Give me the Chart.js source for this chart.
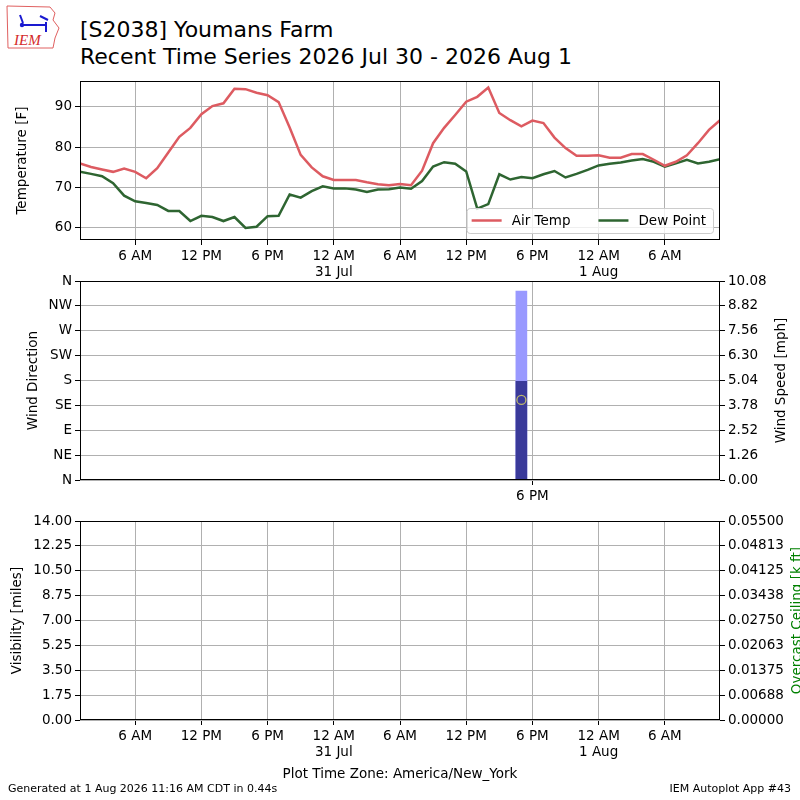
<!DOCTYPE html>
<html>
<head>
<meta charset="utf-8">
<title>[S2038] Youmans Farm</title>
<script src="https://cdn.jsdelivr.net/npm/chart.js@4.4.1/dist/chart.umd.min.js"></script>
<style>
  body { margin: 0; background: #fff; }
  #page { position: relative; width: 800px; height: 800px; overflow: hidden; font-family: 'DejaVu Sans', sans-serif; color: #000; }
  canvas { position: absolute; left: 0; }
  #title { position: absolute; left: 80px; top: 16px; font-size: 22px; line-height: 27px; white-space: nowrap; }
  #logo { position: absolute; left: 4px; top: 3px; }
  .foot { position: absolute; top: 782px; font-size: 11px; line-height: 14px; white-space: nowrap; }
</style>
</head>
<body>
<div id="page">
  <svg id="logo" width="62" height="48" viewBox="0 0 62 48">
    <path d="M3 3 L46 4 L51 10 L49 17 L55 25 L51 35 L49 45 L4 45 Z" fill="#fff" stroke="#e06060" stroke-width="1"/>
    <path d="M17 22 L42 22 M42 19 L42 29 M16 12 L19 20 M36 13 L44 17" stroke="#1a1ad0" stroke-width="2" fill="none"/>
    <circle cx="18" cy="22" r="2.2" fill="#1a1ad0"/>
    <text x="10" y="42" font-family="'Liberation Serif', serif" font-style="italic" font-size="15" fill="#d42a2a">IEM</text>
  </svg>
  <div id="title">[S2038] Youmans Farm<br>Recent Time Series 2026 Jul 30 - 2026 Aug 1</div>
  <canvas id="tempChart" width="800" height="215" style="top:70px"></canvas>
  <canvas id="windChart" width="800" height="240" style="top:270px"></canvas>
  <canvas id="visChart" width="800" height="290" style="top:510px"></canvas>
  <div class="foot" style="left:8px">Generated at 1 Aug 2026 11:16 AM CDT in 0.44s</div>
  <div class="foot" style="right:9px">IEM Autoplot App #43</div>
</div>
<script>
// hours since 30 Jul 00:00 (America/New_York)
const hours = [1, 2, 3, 4, 5, 6, 7, 8, 9, 10, 11, 12, 13, 14, 15, 16, 17, 18, 19, 20,
  21, 22, 23, 24, 25, 26, 27, 28, 29, 30, 31, 32, 33, 34, 35, 36, 37, 38, 39, 40,
  41, 42, 43, 44, 45, 46, 47, 48, 49, 50, 51, 52, 53, 54, 55, 56, 57, 58, 59];

const airTemp = [76.0, 75.1, 74.5, 73.9, 74.7, 73.9, 72.3, 74.8, 78.7, 82.6,
  84.8, 88.2, 90.2, 90.9, 94.5, 94.4, 93.5, 92.9, 91.2, 84.9,
  78.1, 75.0, 72.8, 71.9, 71.9, 71.9, 71.3, 70.8, 70.6, 70.9,
  70.6, 74.2, 81.0, 84.8, 88.0, 91.3, 92.5, 94.8, 88.5, 86.7,
  85.2, 86.6, 86.0, 82.4, 79.8, 77.9, 77.9, 78.0, 77.4, 77.4,
  78.3, 78.3, 76.9, 75.4, 76.4, 78.0, 81.0, 84.3, 86.7];

const dewPoint = [73.9, 73.4, 72.8, 71.1, 68.0, 66.6, 66.2, 65.7, 64.2, 64.2,
  61.7, 63.0, 62.7, 61.7, 62.7, 60.0, 60.3, 62.9, 63.0, 68.3,
  67.5, 69.1, 70.3, 69.8, 69.8, 69.5, 68.9, 69.5, 69.6, 70.0,
  69.7, 71.6, 75.2, 76.3, 75.9, 74.0, 64.8, 65.9, 73.3, 72.0,
  72.6, 72.3, 73.3, 74.1, 72.5, 73.4, 74.4, 75.5, 75.9, 76.2,
  76.7, 77.1, 76.4, 75.2, 76.0, 76.9, 76.0, 76.4, 77.0];

// viento: una sola observacion
const windHours = [41];
const windSpeed = [5.0];
const windGust = [9.58];
const windDir = [145];

// sin datos de visibilidad ni techo
const visHours = [];
const visibility = [];
const ceiling = [];

const xTickHours = [6, 12, 18, 24, 30, 36, 42, 48, 54];
const xTickLabels = ['6 AM', '12 PM', '6 PM', ['12 AM', '31 Jul'], '6 AM', '12 PM', '6 PM', ['12 AM', '1 Aug'], '6 AM'];
const windXTickHours = [42];
const windXTickLabels = ['6 PM'];

const tempTicks = [60, 70, 80, 90];
const dirTicks = [0, 45, 90, 135, 180, 225, 270, 315, 360];
const dirTickLabels = ['N', 'NE', 'E', 'SE', 'S', 'SW', 'W', 'NW', 'N'];
const speedTicks = [0, 1.26, 2.52, 3.78, 5.04, 6.30, 7.56, 8.82, 10.08];
const speedTickLabels = ['0.00', '1.26', '2.52', '3.78', '5.04', '6.30', '7.56', '8.82', '10.08'];
const visTicks = [0, 1.75, 3.5, 5.25, 7, 8.75, 10.5, 12.25, 14];
const visTickLabels = ['0.00', '1.75', '3.50', '5.25', '7.00', '8.75', '10.50', '12.25', '14.00'];
const ceilTicks = [0, 0.006875, 0.01375, 0.020625, 0.0275, 0.034375, 0.04125, 0.048125, 0.055];
const ceilTickLabels = ['0.00000', '0.00688', '0.01375', '0.02063', '0.02750', '0.03438', '0.04125', '0.04813', '0.05500'];

const FONT = "'DejaVu Sans', sans-serif";
const FSIZE = 13.5;
Chart.defaults.font.family = FONT;
Chart.defaults.font.size = FSIZE;
Chart.defaults.color = '#000';

function points(xs, ys) {
  return xs.map((x, i) => ({ x: x, y: ys[i] }));
}

// marco negro alrededor del area del grafico
const framePlugin = {
  id: 'frame',
  afterDraw(chart) {
    const a = chart.chartArea;
    const ctx = chart.ctx;
    ctx.save();
    ctx.strokeStyle = '#000';
    ctx.lineWidth = 1;
    ctx.strokeRect(Math.round(a.left) + 0.5, Math.round(a.top) + 0.5,
      Math.round(a.right - a.left) - 1, Math.round(a.bottom - a.top) - 1);
    ctx.restore();
  }
};

// titulo del eje derecho, girado como en matplotlib
const sideTitlePlugin = {
  id: 'sideTitle',
  afterDraw(chart, args, opts) {
    if (!opts.text) return;
    const a = chart.chartArea;
    const ctx = chart.ctx;
    ctx.save();
    ctx.translate(opts.x, (a.top + a.bottom) / 2);
    ctx.rotate(-Math.PI / 2);
    ctx.font = FSIZE + 'px ' + FONT;
    ctx.fillStyle = opts.color || '#000';
    ctx.textAlign = 'center';
    ctx.textBaseline = 'middle';
    ctx.fillText(opts.text, 0, 0);
    ctx.restore();
  }
};

// leyenda dentro del grafico, abajo a la derecha
const boxLegendPlugin = {
  id: 'boxLegend',
  afterDatasetsDraw(chart) {
    const a = chart.chartArea;
    const ctx = chart.ctx;
    const sets = chart.data.datasets;
    ctx.save();
    ctx.font = FSIZE + 'px ' + FONT;
    const widths = sets.map(d => ctx.measureText(d.label).width);
    const w = 5 + widths.reduce((s, tw) => s + 30 + 10 + tw, 0) + 28 * (sets.length - 1) + 7;
    const h = 25;
    const x0 = a.right - 7 - w;
    const y0 = a.bottom - 7 - h;
    ctx.beginPath();
    ctx.roundRect(x0 + 0.5, y0 + 0.5, w, h, 3);
    ctx.fillStyle = 'rgba(255,255,255,0.8)';
    ctx.fill();
    ctx.strokeStyle = '#cccccc';
    ctx.lineWidth = 1;
    ctx.stroke();
    let x = x0 + 5;
    const yc = y0 + h / 2;
    sets.forEach((d, i) => {
      ctx.beginPath();
      ctx.moveTo(x, yc);
      ctx.lineTo(x + 30, yc);
      ctx.strokeStyle = d.borderColor;
      ctx.lineWidth = d.borderWidth;
      ctx.stroke();
      ctx.fillStyle = '#000';
      ctx.textBaseline = 'middle';
      ctx.fillText(d.label, x + 40, yc + 1);
      x += 40 + widths[i] + 28;
    });
    ctx.restore();
  }
};

const gridOpts = { color: '#b0b0b0', lineWidth: 1, tickColor: '#000', tickLength: 5, offset: false };

function timeAxis(tickHours, tickLabels, height, title) {
  return {
    type: 'linear',
    min: 1,
    max: 59,
    offset: false,
    afterBuildTicks: scale => { scale.ticks = tickHours.map(v => ({ value: v })); },
    afterFit: scale => { scale.height = height; },
    ticks: { autoSkip: false, maxRotation: 0, padding: 3, callback: (v, i) => tickLabels[i] },
    grid: gridOpts,
    border: { display: false },
    title: title ? { display: true, text: title, padding: { top: 0, bottom: 17 } } : { display: false }
  };
}

function valueAxis(position, min, max, tickValues, tickLabels, title, titlePad, onChart) {
  return {
    type: 'linear',
    position: position,
    min: min,
    max: max,
    afterBuildTicks: scale => { scale.ticks = tickValues.map(v => ({ value: v })); },
    afterFit: scale => { scale.width = 80; },
    ticks: {
      padding: 3,
      callback: (v, i) => tickLabels ? tickLabels[i] : v
    },
    grid: Object.assign({}, gridOpts, { drawOnChartArea: onChart }),
    border: { display: false },
    title: title ? { display: true, text: title, padding: { top: titlePad, bottom: 0 } } : { display: false }
  };
}

const common = {
  responsive: false,
  animation: false,
  events: []
};

// temperatura y punto de rocio
new Chart(document.getElementById('tempChart'), {
  type: 'line',
  data: {
    datasets: [
      { label: 'Air Temp', data: points(hours, airTemp), borderColor: '#dd5b61', borderWidth: 2.5, pointRadius: 0, tension: 0 },
      { label: 'Dew Point', data: points(hours, dewPoint), borderColor: '#2e6531', borderWidth: 2.5, pointRadius: 0, tension: 0 }
    ]
  },
  options: Object.assign({}, common, {
    layout: { padding: { top: 10, right: 80, left: 0, bottom: 0 } },
    plugins: { legend: { display: false }, tooltip: { enabled: false } },
    scales: {
      x: timeAxis(xTickHours, xTickLabels, 45),
      y: valueAxis('left', 57, 96.4, tempTicks, null, 'Temperature [F]', 14, true)
    }
  }),
  plugins: [boxLegendPlugin, framePlugin]
});

// direccion y velocidad del viento
new Chart(document.getElementById('windChart'), {
  type: 'bar',
  data: {
    datasets: [
      { type: 'line', label: 'Direction', data: points(windHours, windDir), yAxisID: 'y', showLine: false,
        pointStyle: 'circle', pointRadius: 4.5, pointBorderWidth: 1.3, pointBorderColor: '#bdb76b', pointBackgroundColor: 'rgba(0,0,0,0)' },
      { type: 'bar', label: 'Speed', data: points(windHours, windSpeed), yAxisID: 'y2', backgroundColor: '#3a3a9a', barThickness: 11, grouped: false },
      { type: 'bar', label: 'Gust', data: points(windHours, windGust), yAxisID: 'y2', backgroundColor: '#9999ff', barThickness: 11, grouped: false }
    ]
  },
  options: Object.assign({}, common, {
    layout: { padding: { top: 10, right: 0, left: 0, bottom: 0 } },
    plugins: {
      legend: { display: false }, tooltip: { enabled: false },
      sideTitle: { text: 'Wind Speed [mph]', x: 781 }
    },
    scales: {
      x: timeAxis(windXTickHours, windXTickLabels, 30),
      y: valueAxis('left', 0, 360, dirTicks, dirTickLabels, 'Wind Direction', 25, true),
      y2: valueAxis('right', 0, 10.08, speedTicks, speedTickLabels, null, 0, false)
    }
  }),
  plugins: [sideTitlePlugin, framePlugin]
});

// visibilidad y techo (sin datos)
new Chart(document.getElementById('visChart'), {
  type: 'line',
  data: {
    datasets: [
      { label: 'Visibility', data: points(visHours, visibility), yAxisID: 'y', borderColor: '#000', pointRadius: 0 },
      { label: 'Ceiling', data: points(visHours, ceiling), yAxisID: 'y2', borderColor: 'green', pointRadius: 0 }
    ]
  },
  options: Object.assign({}, common, {
    layout: { padding: { top: 10, right: 0, left: 0, bottom: 0 } },
    plugins: {
      legend: { display: false }, tooltip: { enabled: false },
      sideTitle: { text: 'Overcast Ceiling [k ft]', x: 797.5, color: '#008000' }
    },
    scales: {
      x: timeAxis(xTickHours, xTickLabels, 80, 'Plot Time Zone: America/New_York'),
      y: valueAxis('left', 0, 14, visTicks, visTickLabels, 'Visibility [miles]', 9.5, true),
      y2: valueAxis('right', 0, 0.055, ceilTicks, ceilTickLabels, null, 0, false)
    }
  }),
  plugins: [sideTitlePlugin, framePlugin]
});
</script>
</body>
</html>
